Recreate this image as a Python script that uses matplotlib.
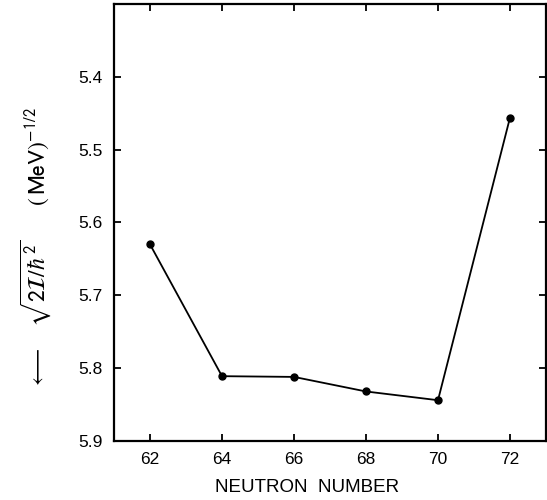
import matplotlib
matplotlib.use("Agg")
import matplotlib.pyplot as plt

# Inverse moment-of-inertia parameter vs neutron number
neutron_number = [62, 64, 66, 68, 70, 72]
inv_sqrt_moment = [5.630, 5.811, 5.812, 5.832, 5.844, 5.456]

x_ticks = [62, 64, 66, 68, 70, 72]
y_ticks = [5.4, 5.5, 5.6, 5.7, 5.8, 5.9]

plt.rcParams["font.family"] = ["Liberation Sans", "DejaVu Sans"]
plt.rcParams["mathtext.fontset"] = "stixsans"

fig = plt.figure(figsize=(5.47, 5.0), dpi=100)
ax = fig.add_axes([114 / 547, 59 / 500, 432 / 547, 437 / 500])

ax.plot(neutron_number, inv_sqrt_moment, color="black", lw=1.3,
        marker="o", ms=5, mfc="black", mec="black")

ax.set_xlim(61, 73)
ax.set_ylim(5.9, 5.3)
ax.set_xticks(x_ticks)
ax.set_xticklabels([str(v) for v in x_ticks])
ax.set_yticks(y_ticks)
ax.set_yticklabels([f"{v:.1f}" for v in y_ticks])

for side in ax.spines.values():
    side.set_linewidth(1.6)
ax.tick_params(direction="in", length=5, width=1.3, labelsize=12.5,
               top=True, right=True, pad=8)

fig.text(307 / 547, 12 / 500, "NEUTRON  NUMBER", ha="center", va="center",
         fontsize=13.5)
fig.text(36 / 547, 1 - 248 / 500,
         r"$\longleftarrow\quad\sqrt{2\mathcal{I}/\hbar^2}\qquad(\,\mathrm{MeV})^{-1/2}$",
         rotation=90, ha="center", va="center", fontsize=17)

fig.savefig("out.png", dpi=100)
